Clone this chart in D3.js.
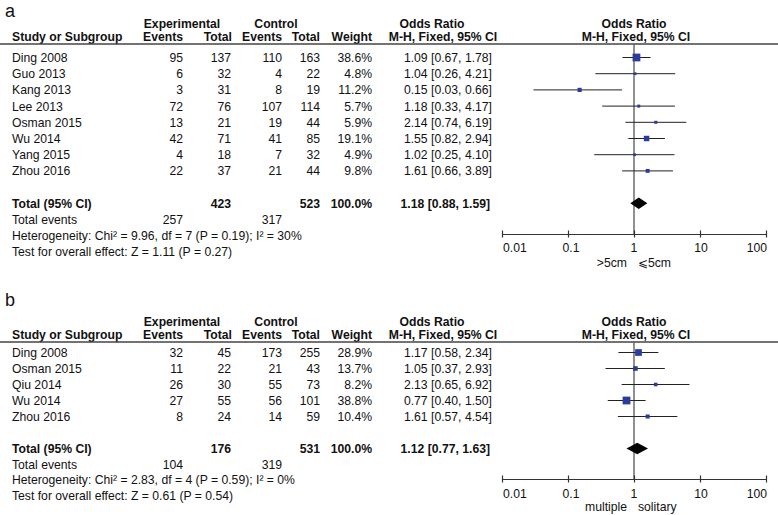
<!DOCTYPE html>
<html><head><meta charset="utf-8">
<script src="https://cdn.jsdelivr.net/npm/d3@7"></script>
<style>
body{margin:0;background:#fff;}
svg text{font-family:"Liberation Sans",Arial,Helvetica,sans-serif;fill:#111;}
</style></head>
<body><svg id="c" width="778" height="515"></svg>
<script>
// ---------- Panel a data ----------
const studiesA   = ["Ding 2008","Guo 2013","Kang 2013","Lee 2013","Osman 2015","Wu 2014","Yang 2015","Zhou 2016"];
const expEventsA = [95, 6, 3, 72, 13, 42, 4, 22];
const expTotalA  = [137, 32, 31, 76, 21, 71, 18, 37];
const ctlEventsA = [110, 4, 8, 107, 19, 41, 7, 21];
const ctlTotalA  = [163, 22, 19, 114, 44, 85, 32, 44];
const weightA    = [38.6, 4.8, 11.2, 5.7, 5.9, 19.1, 4.9, 9.8];
const orA        = [1.09, 1.04, 0.15, 1.18, 2.14, 1.55, 1.02, 1.61];
const lowA       = [0.67, 0.26, 0.03, 0.33, 0.74, 0.82, 0.25, 0.66];
const highA      = [1.78, 4.21, 0.66, 4.17, 6.19, 2.94, 4.10, 3.89];
const totalA     = {expEvents:257, expTotal:423, ctlEvents:317, ctlTotal:523, or:1.18, low:0.88, high:1.59};
const hetA       = "Heterogeneity: Chi² = 9.96, df = 7 (P = 0.19); I² = 30%";
const testA      = "Test for overall effect: Z = 1.11 (P = 0.27)";
const favA       = [">5cm", "⩽5cm"];

// ---------- Panel b data ----------
const studiesB   = ["Ding 2008","Osman 2015","Qiu 2014","Wu 2014","Zhou 2016"];
const expEventsB = [32, 11, 26, 27, 8];
const expTotalB  = [45, 22, 30, 55, 24];
const ctlEventsB = [173, 21, 55, 56, 14];
const ctlTotalB  = [255, 43, 73, 101, 59];
const weightB    = [28.9, 13.7, 8.2, 38.8, 10.4];
const orB        = [1.17, 1.05, 2.13, 0.77, 1.61];
const lowB       = [0.58, 0.37, 0.65, 0.40, 0.57];
const highB      = [2.34, 2.93, 6.92, 1.50, 4.54];
const totalB     = {expEvents:104, expTotal:176, ctlEvents:319, ctlTotal:531, or:1.12, low:0.77, high:1.63};
const hetB       = "Heterogeneity: Chi² = 2.83, df = 4 (P = 0.59); I² = 0%";
const testB      = "Test for overall effect: Z = 0.61 (P = 0.54)";
const favB       = ["multiple", "solitary"];

// axis ticks
const tickValues = [0.01, 0.1, 1, 10, 100];
const tickLabels = ["0.01", "0.1", "1", "10", "100"];

const svg = d3.select("#c");
const x = d3.scaleLog().domain([0.01, 100]).range([502, 766]);
const f2 = d3.format(".2f");
const orText = (o,l,h) => `${f2(o)} [${f2(l)}, ${f2(h)}]`;

const COL = {study:12, expE:183, expT:231, ctlE:282, ctlT:320, weight:372, orR:492};
const FS = 12.2;

function panel(p){
  const g = svg.append("g");
  const t = (xx, yy, s, anchor="start", bold=false, size=FS) =>
    g.append("text").attr("x", xx).attr("y", yy).attr("text-anchor", anchor)
     .attr("font-size", size).attr("font-weight", bold ? "bold" : "normal").text(s);

  t(5, p.labelY, p.label, "start", false, 18);

  // headers
  const h1 = p.top + 28, h2 = p.top + 41, hl = p.top + 44;
  t(182, h1, "Experimental", "middle", true);
  t(276, h1, "Control", "middle", true);
  t(432, h1, "Odds Ratio", "middle", true);
  t(634, h1, "Odds Ratio", "middle", true);
  t(COL.study, h2, "Study or Subgroup", "start", true);
  t(COL.expE, h2, "Events", "end", true);
  t(COL.expT + 1, h2, "Total", "end", true);
  t(COL.ctlE, h2, "Events", "end", true);
  t(COL.ctlT, h2, "Total", "end", true);
  t(COL.weight, h2, "Weight", "end", true);
  t(443, h2, "M-H, Fixed, 95% CI", "middle", true);
  t(636, h2, "M-H, Fixed, 95% CI", "middle", true);
  g.append("line").attr("x1", 0).attr("x2", 778).attr("y1", hl).attr("y2", hl)
    .attr("stroke", "#444").attr("stroke-width", 1.3);

  const rowY = i => p.rowStart + i * p.rowStep;
  const totY = rowY(p.studies.length + 1);

  // vertical line at OR = 1
  g.append("line").attr("x1", x(1)).attr("x2", x(1)).attr("y1", hl).attr("y2", p.axisY)
    .attr("stroke", "#555").attr("stroke-width", 1.3);

  p.studies.forEach((s, i) => {
    const y = rowY(i);
    t(COL.study, y, s);
    t(COL.expE, y, p.expEvents[i], "end");
    t(COL.expT, y, p.expTotal[i], "end");
    t(COL.ctlE, y, p.ctlEvents[i], "end");
    t(COL.ctlT, y, p.ctlTotal[i], "end");
    t(COL.weight, y, p.weight[i].toFixed(1) + "%", "end");
    t(COL.orR, y, orText(p.or[i], p.low[i], p.high[i]), "end");
    const cy = y - 4.5;
    g.append("line").attr("x1", x(p.low[i])).attr("x2", x(p.high[i]))
      .attr("y1", cy).attr("y2", cy).attr("stroke", "#222").attr("stroke-width", 1);
    const side = Math.max(2, 1.25 * Math.sqrt(p.weight[i]));
    g.append("rect").attr("x", x(p.or[i]) - side/2).attr("y", cy - side/2)
      .attr("width", side).attr("height", side).attr("fill", "#2a3d9c");
  });

  // totals
  t(COL.study, totY, "Total (95% CI)", "start", true);
  t(COL.expT, totY, p.total.expTotal, "end", true);
  t(COL.ctlT, totY, p.total.ctlTotal, "end", true);
  t(COL.weight, totY, "100.0%", "end", true);
  t(COL.orR - 2, totY, orText(p.total.or, p.total.low, p.total.high), "end", true);
  const dy = totY - 4.5, hh = 5.8;
  g.append("path").attr("d",
    `M${x(p.total.low)},${dy} L${x(p.total.or)},${dy-hh} L${x(p.total.high)},${dy} L${x(p.total.or)},${dy+hh} Z`)
    .attr("fill", "#000");

  const fy = totY + p.footStep;
  t(COL.study, fy, "Total events");
  t(COL.expE, fy, p.total.expEvents, "end");
  t(COL.ctlE, fy, p.total.ctlEvents, "end");
  t(COL.study, fy + p.footStep, p.het);
  t(COL.study, fy + 2 * p.footStep, p.test);

  // axis
  const ax = g.append("g").attr("transform", `translate(0,${p.axisY})`)
    .call(d3.axisBottom(x).tickValues(tickValues).tickSize(0).tickFormat(""));
  ax.select(".domain").attr("stroke", "#333").attr("stroke-width", 1.2);
  ax.selectAll(".tick").each(function(){
    d3.select(this).append("line").attr("y1", -3.5).attr("y2", 3.5)
      .attr("stroke", "#333").attr("stroke-width", 1.2);
  });
  tickValues.forEach((v, i) => {
    const last = tickValues.length - 1;
    const anchor = i === 0 ? "start" : (i === last ? "end" : "middle");
    const shift = i === 0 ? 1 : (i === 1 ? 3 : (i === last ? 1 : (i === 3 ? 1 : 0)));
    t(x(v) + shift, p.tickLabelY, tickLabels[i], anchor);
  });
  t(x(1) - 7, p.favY, p.fav[0], "end");
  t(x(1) + 4, p.favY, p.fav[1], "start");
}

panel({label:"a", labelY:16.5, top:0, studies:studiesA, expEvents:expEventsA, expTotal:expTotalA,
  ctlEvents:ctlEventsA, ctlTotal:ctlTotalA, weight:weightA, or:orA, low:lowA, high:highA,
  total:totalA, het:hetA, test:testA, fav:favA,
  rowStart:62, rowStep:16.2, footStep:16.2, axisY:234, tickLabelY:252, favY:267});

panel({label:"b", labelY:306, top:298, studies:studiesB, expEvents:expEventsB, expTotal:expTotalB,
  ctlEvents:ctlEventsB, ctlTotal:ctlTotalB, weight:weightB, or:orB, low:lowB, high:highB,
  total:totalB, het:hetB, test:testB, fav:favB,
  rowStart:357, rowStep:16, footStep:15.5, axisY:479, tickLabelY:498, favY:511});
</script></body></html>
